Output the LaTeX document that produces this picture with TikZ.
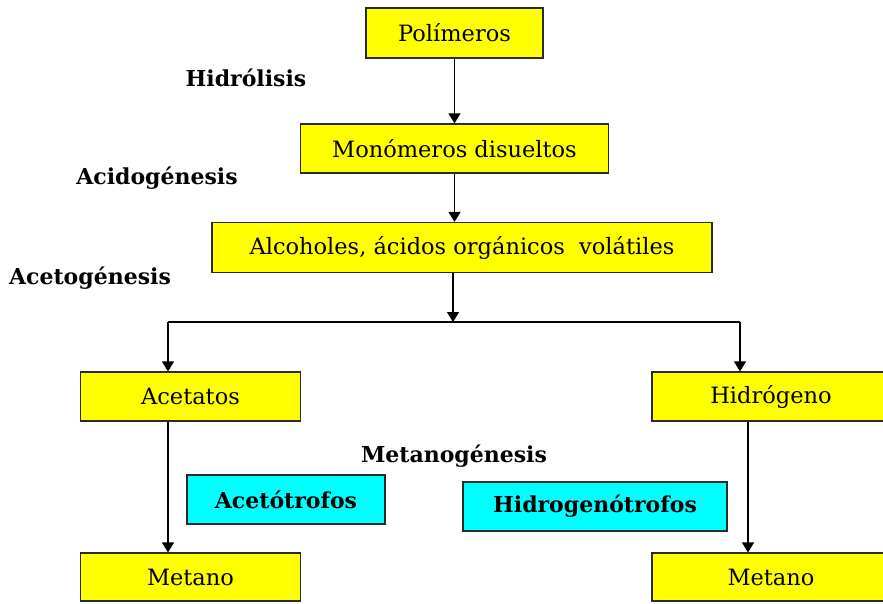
\documentclass[tikz,border=0pt]{standalone}
\usepackage{fontspec}
\setmainfont{DejaVu Serif}
\usetikzlibrary{arrows.meta}
\definecolor{boxyellow}{HTML}{FFFF00}
\definecolor{boxcyan}{HTML}{00FFFF}
\definecolor{edge}{HTML}{2A2A2A}
\tikzset{
  ybox/.style={draw=edge, line width=1.2pt, fill=boxyellow, inner sep=0pt,
    font=\fontsize{22.5}{26}\selectfont},
  cbox/.style={draw=edge, line width=1.2pt, fill=boxcyan, inner sep=0pt,
    font=\fontsize{22}{26}\selectfont\bfseries},
  stage/.style={inner sep=0pt, font=\fontsize{22}{26}\selectfont\bfseries},
  arr/.style={draw=black, line width=1.3pt, -{Triangle[width=12pt,length=10pt]}},
  conn/.style={draw=black, line width=1.3pt},
}
\begin{document}
\begin{tikzpicture}[x=1pt,y=-1pt]
\useasboundingbox (0,0) rectangle (883,603);
\clip (0,0) rectangle (883,603);
\fill[white] (0,0) rectangle (883,603);
% boxes
\node[ybox, minimum width=177pt, minimum height=50pt] (pol) at (454.5,33) {Polímeros};
\node[ybox, minimum width=308pt, minimum height=49pt] (mon) at (454.5,148.5) {Monómeros disueltos};
\node[ybox, minimum width=500pt, minimum height=50pt] (alc) at (462,247.5) {Alcoholes, ácidos orgánicos\ \ volátiles};
\node[ybox, minimum width=220pt, minimum height=49pt] (ace) at (190.5,396.5) {Acetatos};
\node[ybox, minimum width=238pt, minimum height=49pt] (hid) at (771,396.5) {Hidrógeno};
\node[cbox, minimum width=198pt, minimum height=49pt] (acet) at (286,499.5) {Acetótrofos};
\node[cbox, minimum width=264pt, minimum height=49pt] (hidt) at (595,506.5) {Hidrogenótrofos};
\node[ybox, minimum width=220pt, minimum height=48pt] (met1) at (190.5,577) {Metano};
\node[ybox, minimum width=238pt, minimum height=48pt] (met2) at (771,577) {Metano};
% stage labels
\node[stage] (l1) at (246,78) {Hidrólisis};
\node[stage] (l2) at (157,178) {Acidogénesis};
\node[stage] (l3) at (90,278) {Acetogénesis};
\node[stage] (l4) at (454,456) {Metanogénesis};
% connectors
\coordinate (j) at (453,322);
\coordinate (jl) at (168,322);
\coordinate (jr) at (740,322);
\coordinate (xl) at (168,0);
\coordinate (xr) at (748,0);
\draw[arr] (pol.south) -- (mon.north);
\draw[arr] (mon.south) -- (alc.north -| mon.south);
\draw[arr] (alc.south -| j) -- (j);
\draw[conn] (jl) -- (jr);
\draw[arr] (jl) -- (jl |- ace.north);
\draw[arr] (jr) -- (jr |- hid.north);
\draw[arr] (ace.south -| xl) -- (met1.north -| xl);
\draw[arr] (hid.south -| xr) -- (met2.north -| xr);
\end{tikzpicture}
\end{document}
